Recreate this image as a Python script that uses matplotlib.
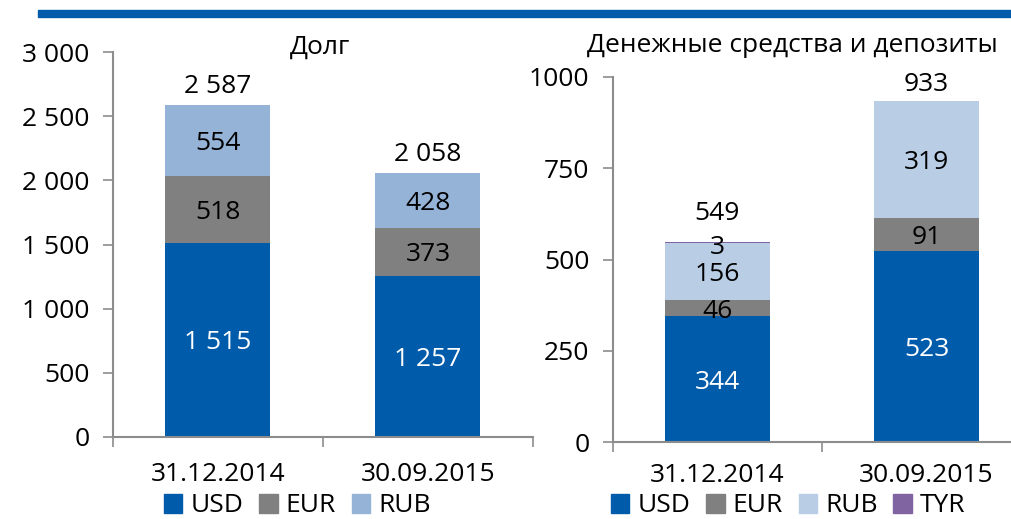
import matplotlib

matplotlib.use("Agg")
import matplotlib.pyplot as plt
from matplotlib.patches import Patch, Rectangle

plt.rcParams["font.family"] = ["Open Sans", "DejaVu Sans"]
plt.rcParams["font.size"] = 19

# Data
dates = ["31.12.2014", "30.09.2015"]

debt_usd = [1515, 1257]
debt_eur = [518, 373]
debt_rub = [554, 428]
debt_total = [2587, 2058]

cash_usd = [344, 523]
cash_eur = [46, 91]
cash_rub = [156, 319]
cash_tyr = [3, 0]
cash_total = [549, 933]

BLUE = "#005BAA"
GREY = "#808080"
RUB_L = "#95B3D7"
RUB_R = "#B9CDE5"
TYR = "#8064A2"
SPINE = "#8C8C8C"


def fmt(v):
    return f"{v:,}".replace(",", " ")


def style_axes(ax, xpad):
    for s in ["top", "right"]:
        ax.spines[s].set_visible(False)
    for s in ["left", "bottom"]:
        ax.spines[s].set_color(SPINE)
        ax.spines[s].set_linewidth(1.5)
    ax.tick_params(axis="both", length=7, width=1.2, color=SPINE, direction="out")
    ax.tick_params(axis="y", pad=10)
    ax.set_xlim(-0.5, 1.5)
    ax.set_xticks([-0.5, 0.5, 1.5])
    ax.set_xticklabels([])
    ax.set_xticks([0, 1], minor=True)
    ax.set_xticklabels(dates, minor=True)
    ax.tick_params(axis="x", which="minor", length=0, pad=xpad)


def stack(ax, series, colors, label_colors, width=0.5):
    x = [0, 1]
    bottom = [0, 0]
    for vals, c, lc in zip(series, colors, label_colors):
        ax.bar(x, vals, width, bottom=bottom, color=c, edgecolor="none")
        for i, v in enumerate(vals):
            if v > 0 and lc is not None:
                ax.text(x[i], bottom[i] + v / 2, fmt(v), ha="center",
                        va="center_baseline", color=lc)
        bottom = [b + v for b, v in zip(bottom, vals)]
    return bottom


fig = plt.figure(figsize=(10.12, 5.19), dpi=100)

# top rule
fig.patches.append(Rectangle((38 / 1012, 1 - 17 / 519), 1, 7 / 519,
                             transform=fig.transFigure, color=BLUE, zorder=0))

# Left: debt
ax1 = fig.add_axes([113 / 1012, 1 - 437 / 519, 420 / 1012, 385 / 519])
style_axes(ax1, 18)
stack(ax1, [debt_usd, debt_eur, debt_rub], [BLUE, GREY, RUB_L],
      ["white", "black", "black"])
for i, t in enumerate(debt_total):
    ax1.text(i, t + 170, fmt(t), ha="center", va="center_baseline")
ax1.set_ylim(0, 3000)
ax1.set_yticks(range(0, 3001, 500))
ax1.set_yticklabels([fmt(v) for v in range(0, 3001, 500)])
fig.text(320 / 1012, 1 - 47 / 519, "Долг", ha="center", va="center")

# Right: cash and deposits
ax2 = fig.add_axes([613 / 1012, 1 - 442 / 519, 418 / 1012, 365 / 519])
style_axes(ax2, 15)
stack(ax2, [cash_usd, cash_eur, cash_rub, cash_tyr], [BLUE, GREY, RUB_R, TYR],
      ["white", "black", "black", None])
ax2.text(0, cash_total[0] - 8, fmt(cash_tyr[0]), ha="center",
         va="center_baseline")
for i, off in zip(range(2), [85, 55]):
    ax2.text(i, cash_total[i] + off, fmt(cash_total[i]), ha="center",
             va="center_baseline")
ax2.set_ylim(0, 1000)
ax2.set_yticks(range(0, 1001, 250))
fig.text(792 / 1012, 1 - 45 / 519, "Денежные средства и депозиты",
         ha="center", va="center")

# Legends
leg_kw = dict(ncol=4, frameon=False, handlelength=0.7, handleheight=0.7,
              handletextpad=0.3, columnspacing=0.6, borderaxespad=0,
              borderpad=0)
fig.legend([Patch(color=BLUE), Patch(color=GREY), Patch(color=RUB_L)],
           ["USD", "EUR", "RUB"], loc="center left",
           bbox_to_anchor=(164 / 1012, 1 - 506 / 519), **leg_kw)
fig.legend([Patch(color=BLUE), Patch(color=GREY), Patch(color=RUB_R),
            Patch(color=TYR)],
           ["USD", "EUR", "RUB", "TYR"], loc="center left",
           bbox_to_anchor=(611 / 1012, 1 - 506 / 519), **leg_kw)

fig.savefig("out.png", dpi=100)
